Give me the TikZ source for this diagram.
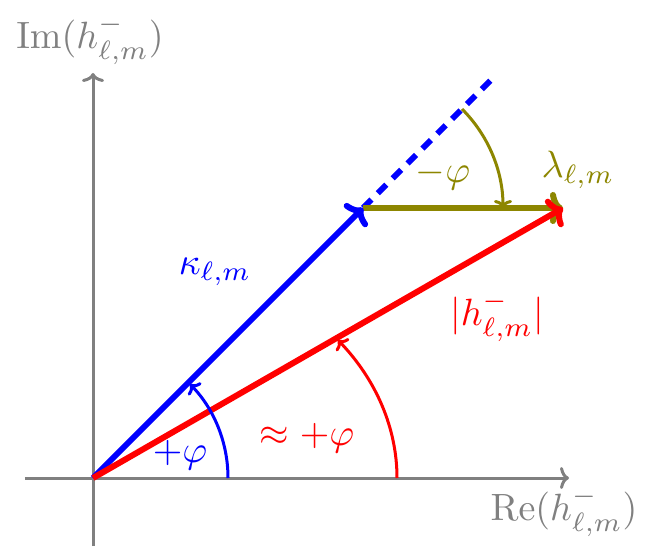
\documentclass[tikz,border=0pt]{standalone}
\usetikzlibrary{calc,arrows.meta}
\begin{document}
\begin{tikzpicture}[x=1pt,y=1pt,
  axis/.style={draw=gray,line width=3pt,-{To[length=9pt,width=22pt,round]}},
  vec/.style={line width=6pt,-{To[length=13pt,width=32pt,round]}},
  arcline/.style={line width=3pt,-{To[length=8pt,width=18pt,round]}},
  lbl/.style={scale=3.8,inner sep=0pt}]
\useasboundingbox (-93,-74) rectangle (565,478);
\coordinate (O) at (0,0);
\coordinate (xs) at (-68,0);
\coordinate (xe) at (476,0);
\coordinate (ys) at (0,-68);
\coordinate (ye) at (0,405);
\coordinate (A) at (270,270);
\coordinate (D) at (403,403);
\coordinate (B) at (470,270);
% axes
\draw[axis] (xs) -- (xe);
\draw[axis] (ys) -- (ye);
% dashed continuation
\draw[blue,line width=6pt,dash pattern=on 12pt off 9pt] (A) -- (D);
% vectors
\draw[vec,olive] (A) -- (B);
\draw[vec,blue] (O) -- (A);
\draw[vec,red] (O) -- (B);
% arcs
\draw[arcline,blue] (135,0) arc[start angle=0,end angle=44,radius=135];
\draw[arcline,red] (304,0) arc[start angle=0,end angle=36.3,x radius=304,y radius=233];
\draw[arcline,olive] ($(A)+(45:140)$) arc[start angle=45,end angle=0,radius=140];
% labels
\node[lbl,gray] (im) at (-3,438) {$\mathrm{Im}(h^-_{\ell,m})$};
\node[lbl,gray] (re) at (471,-34) {$\mathrm{Re}(h^-_{\ell,m})$};
\node[lbl,blue] (kap) at (122,206) {$\kappa_{\ell,m}$};
\node[lbl,olive] (lam) at (485,308) {$\lambda_{\ell,m}$};
\node[lbl,olive] (mphi) at (350,303) {$-\varphi$};
\node[lbl,red] (habs) at (404,161) {$|h^-_{\ell,m}|$};
\node[lbl,blue] (pphi) at (87,23) {$+\varphi$};
\node[lbl,red] (aphi) at (214,40) {$\approx+\varphi$};
\end{tikzpicture}
\end{document}
